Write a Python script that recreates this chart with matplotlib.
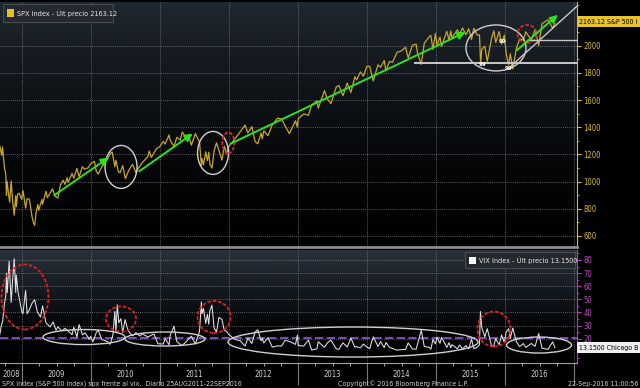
import numpy as np
import pandas as pd
import matplotlib
matplotlib.use('Agg')
import matplotlib.pyplot as plt
import matplotlib.transforms as mtransforms
from matplotlib import font_manager
from matplotlib.patches import Ellipse, Rectangle
from matplotlib.colors import LinearSegmentedColormap
from matplotlib.ticker import MultipleLocator

# S&P 500 (approximate closes)
spx_dates = [
    '2008-09-02', '2008-09-15', '2008-09-19', '2008-09-29', '2008-10-06', '2008-10-10', '2008-10-13',
    '2008-10-22', '2008-10-27', '2008-11-04', '2008-11-12', '2008-11-20', '2008-11-28', '2008-12-01',
    '2008-12-08', '2008-12-16', '2008-12-29', '2009-01-06', '2009-01-20', '2009-01-28', '2009-02-09',
    '2009-02-23', '2009-03-02', '2009-03-09', '2009-03-17', '2009-03-26', '2009-03-30', '2009-04-17',
    '2009-04-20', '2009-05-08', '2009-05-15', '2009-06-12', '2009-06-23', '2009-07-10', '2009-07-23',
    '2009-08-07', '2009-08-17', '2009-08-28', '2009-09-02', '2009-09-23', '2009-10-02', '2009-10-19',
    '2009-10-30', '2009-11-17', '2009-11-27', '2009-12-18', '2009-12-28', '2010-01-19', '2010-01-29',
    '2010-02-08', '2010-02-26', '2010-03-31', '2010-04-15', '2010-04-23', '2010-05-07', '2010-05-13',
    '2010-05-25', '2010-06-04', '2010-06-18', '2010-07-02', '2010-07-20', '2010-08-09', '2010-08-27',
    '2010-09-08', '2010-09-30', '2010-10-29', '2010-11-05', '2010-11-16', '2010-12-13', '2010-12-31',
    '2011-01-18', '2011-01-28', '2011-02-18', '2011-02-23', '2011-03-16', '2011-03-31', '2011-04-18',
    '2011-04-29', '2011-05-23', '2011-05-31', '2011-06-16', '2011-07-07', '2011-07-29', '2011-08-08',
    '2011-08-11', '2011-08-19', '2011-08-31', '2011-09-09', '2011-09-16', '2011-09-22', '2011-10-03',
    '2011-10-14', '2011-10-27', '2011-11-09', '2011-11-25', '2011-12-07', '2011-12-19', '2011-12-30',
    '2012-01-31', '2012-02-29', '2012-03-26', '2012-04-10', '2012-05-01', '2012-05-18', '2012-06-01',
    '2012-06-19', '2012-06-25', '2012-07-03', '2012-07-25', '2012-08-17', '2012-09-14', '2012-10-05',
    '2012-10-23', '2012-11-15', '2012-12-18', '2012-12-28', '2013-01-02', '2013-01-31', '2013-02-25',
    '2013-03-14', '2013-04-11', '2013-04-18', '2013-05-21', '2013-06-05', '2013-06-24', '2013-07-22',
    '2013-08-05', '2013-08-27', '2013-09-18', '2013-10-08', '2013-10-29', '2013-11-07', '2013-11-27',
    '2013-12-13', '2013-12-31', '2014-01-15', '2014-02-03', '2014-02-28', '2014-03-14', '2014-04-02',
    '2014-04-11', '2014-04-30', '2014-05-16', '2014-06-09', '2014-06-30', '2014-07-24', '2014-08-07',
    '2014-08-29', '2014-09-18', '2014-09-25', '2014-10-15', '2014-10-31', '2014-11-28', '2014-12-05',
    '2014-12-16', '2014-12-29', '2015-01-06', '2015-01-22', '2015-01-30', '2015-02-27', '2015-03-11',
    '2015-03-20', '2015-03-26', '2015-04-24', '2015-05-06', '2015-05-21', '2015-06-08', '2015-06-23',
    '2015-07-08', '2015-07-20', '2015-08-07', '2015-08-19', '2015-08-25', '2015-08-31', '2015-09-16',
    '2015-09-29', '2015-10-22', '2015-11-03', '2015-11-13', '2015-12-01', '2015-12-14', '2015-12-29',
    '2016-01-07', '2016-01-20', '2016-01-29', '2016-02-11', '2016-03-01', '2016-03-18', '2016-04-07',
    '2016-04-20', '2016-05-19', '2016-06-08', '2016-06-27', '2016-07-15', '2016-08-15', '2016-09-09',
    '2016-09-15', '2016-09-21',
]
spx_vals = [
    1277, 1193, 1255, 1106, 1057, 899, 1003,
    896, 848, 1005, 852, 752, 896, 816,
    909, 913, 870, 935, 805, 874, 870,
    743, 700, 677, 778, 832, 788, 870,
    833, 929, 882, 946, 895, 879, 976,
    1010, 980, 1029, 995, 1061, 1025, 1097,
    1036, 1110, 1091, 1102, 1127, 1150, 1074,
    1056, 1105, 1169, 1211, 1217, 1110, 1157,
    1074, 1064, 1118, 1022, 1083, 1127, 1065,
    1098, 1141, 1183, 1225, 1178, 1240, 1258,
    1295, 1276, 1343, 1307, 1257, 1326, 1305,
    1364, 1317, 1345, 1268, 1353, 1292, 1119,
    1172, 1123, 1219, 1154, 1216, 1129, 1099,
    1224, 1285, 1229, 1159, 1261, 1205, 1258,
    1312, 1366, 1416, 1358, 1405, 1295, 1278,
    1357, 1314, 1374, 1338, 1418, 1466, 1460,
    1413, 1353, 1446, 1402, 1462, 1498, 1488,
    1563, 1593, 1541, 1669, 1609, 1573, 1695,
    1707, 1631, 1725, 1656, 1771, 1748, 1807,
    1775, 1848, 1848, 1741, 1859, 1841, 1890,
    1815, 1884, 1878, 1951, 1960, 1988, 1910,
    2003, 2011, 1946, 1862, 2018, 2068, 2075,
    1972, 2090, 2003, 2063, 1995, 2105, 2040,
    2108, 2056, 2117, 2080, 2131, 2080, 2124,
    2046, 2128, 2078, 2079, 1868, 1972, 1996,
    1884, 2052, 2109, 2023, 2103, 2012, 2078,
    1943, 1859, 1940, 1829, 1978, 2050, 2041,
    2102, 2040, 2119, 2000, 2162, 2190, 2128,
    2147, 2163,
]

# VIX (approximate closes)
vix_dates = [
    '2008-09-02', '2008-09-15', '2008-09-19', '2008-09-29', '2008-10-06', '2008-10-10', '2008-10-14',
    '2008-10-24', '2008-11-04', '2008-11-12', '2008-11-20', '2008-11-28', '2008-12-01', '2008-12-10',
    '2008-12-31', '2009-01-06', '2009-01-20', '2009-01-28', '2009-02-09', '2009-02-23', '2009-03-09',
    '2009-03-23', '2009-04-09', '2009-04-20', '2009-05-08', '2009-05-29', '2009-06-15', '2009-06-30',
    '2009-07-10', '2009-07-31', '2009-08-17', '2009-08-31', '2009-09-23', '2009-10-02', '2009-10-19',
    '2009-10-30', '2009-11-17', '2009-11-30', '2009-12-24', '2009-12-31', '2010-01-11', '2010-01-29',
    '2010-02-08', '2010-02-26', '2010-03-31', '2010-04-12', '2010-04-27', '2010-05-07', '2010-05-13',
    '2010-05-20', '2010-05-28', '2010-06-08', '2010-06-18', '2010-06-30', '2010-07-16', '2010-07-30',
    '2010-08-09', '2010-08-27', '2010-09-15', '2010-09-30', '2010-10-29', '2010-11-16', '2010-11-30',
    '2010-12-21', '2011-01-18', '2011-01-28', '2011-02-18', '2011-02-23', '2011-03-16', '2011-03-31',
    '2011-04-28', '2011-05-23', '2011-06-16', '2011-07-07', '2011-07-29', '2011-08-08', '2011-08-11',
    '2011-08-19', '2011-08-31', '2011-09-09', '2011-09-16', '2011-09-22', '2011-10-03', '2011-10-14',
    '2011-10-27', '2011-11-09', '2011-11-25', '2011-12-07', '2011-12-19', '2011-12-30', '2012-01-31',
    '2012-02-29', '2012-03-26', '2012-04-10', '2012-05-01', '2012-05-18', '2012-06-01', '2012-06-19',
    '2012-06-25', '2012-07-03', '2012-07-25', '2012-08-17', '2012-09-14', '2012-10-05', '2012-10-23',
    '2012-11-15', '2012-12-18', '2012-12-28', '2013-01-02', '2013-01-31', '2013-02-25', '2013-03-14',
    '2013-04-11', '2013-04-18', '2013-05-21', '2013-06-05', '2013-06-24', '2013-07-22', '2013-08-05',
    '2013-08-27', '2013-09-18', '2013-10-08', '2013-10-29', '2013-11-07', '2013-11-27', '2013-12-13',
    '2013-12-31', '2014-01-15', '2014-02-03', '2014-02-28', '2014-03-14', '2014-04-02', '2014-04-11',
    '2014-04-30', '2014-05-16', '2014-06-09', '2014-06-30', '2014-07-24', '2014-08-07', '2014-08-29',
    '2014-09-18', '2014-09-25', '2014-10-15', '2014-10-31', '2014-11-28', '2014-12-05', '2014-12-16',
    '2014-12-29', '2015-01-06', '2015-01-22', '2015-01-30', '2015-02-27', '2015-03-11', '2015-03-20',
    '2015-03-26', '2015-04-24', '2015-05-06', '2015-05-21', '2015-06-08', '2015-06-23', '2015-07-08',
    '2015-07-20', '2015-08-07', '2015-08-19', '2015-08-24', '2015-08-31', '2015-09-16', '2015-09-29',
    '2015-10-22', '2015-11-03', '2015-11-13', '2015-12-01', '2015-12-14', '2015-12-29', '2016-01-07',
    '2016-01-20', '2016-01-29', '2016-02-11', '2016-03-01', '2016-03-18', '2016-04-07', '2016-04-20',
    '2016-05-19', '2016-06-08', '2016-06-27', '2016-07-15', '2016-08-15', '2016-09-09', '2016-09-15',
    '2016-09-21',
]
vix_vals = [
    21.0, 31.7, 32.0, 46.7, 52.0, 69.9, 55.0,
    79.1, 47.7, 66.0, 80.9, 55.3, 68.5, 55.7,
    40.0, 39.0, 56.7, 39.0, 42.0, 47.0, 49.7,
    40.4, 36.5, 45.0, 32.0, 28.9, 32.7, 26.4,
    29.0, 25.9, 27.9, 26.0, 23.0, 28.7, 21.2,
    30.7, 22.9, 24.5, 19.5, 21.7, 17.6, 24.6,
    26.6, 19.5, 17.6, 15.6, 22.8, 40.9, 24.9,
    45.8, 32.1, 35.2, 24.4, 34.5, 26.2, 23.5,
    22.1, 24.5, 22.0, 23.7, 21.2, 22.6, 23.5,
    16.1, 15.9, 20.0, 15.3, 22.1, 29.4, 17.7,
    14.6, 18.3, 21.8, 15.9, 25.3, 48.0, 39.0,
    43.0, 31.6, 38.5, 30.9, 41.4, 45.5, 28.2,
    25.0, 36.2, 34.5, 26.4, 25.6, 23.4, 19.4,
    18.4, 14.3, 20.4, 16.3, 25.1, 26.7, 18.3,
    20.1, 16.7, 20.7, 13.5, 14.5, 14.3, 18.6,
    17.9, 15.6, 22.7, 14.7, 14.3, 18.9, 11.3,
    12.2, 17.6, 13.4, 16.7, 18.9, 12.3, 11.8,
    16.8, 13.6, 20.3, 13.4, 13.9, 12.9, 15.8,
    13.7, 12.3, 21.4, 14.0, 17.8, 13.1, 17.0,
    13.4, 12.4, 11.2, 11.6, 11.8, 16.7, 12.1,
    12.0, 15.6, 26.3, 14.0, 13.3, 11.9, 19.4,
    15.9, 21.1, 16.4, 21.0, 13.3, 16.9, 13.0,
    15.4, 12.3, 15.1, 12.1, 14.7, 12.1, 19.7,
    12.3, 13.4, 15.3, 40.7, 28.4, 21.4, 27.6,
    14.4, 14.5, 20.1, 15.2, 22.7, 16.9, 25.0,
    27.6, 20.2, 28.1, 17.7, 14.0, 16.2, 13.3,
    16.3, 14.1, 23.9, 12.7, 11.8, 17.5, 15.4,
    13.15,
]

years = list(range(2008, 2017))
spx_ticks = [600, 800, 1000, 1200, 1400, 1600, 1800, 2000]
vix_ticks = [20, 30, 40, 50, 60, 70, 80]
spx_last = 2163.12
vix_last = 13.15
vix_ref = 20.5

# pick a narrow face if one is installed, Bloomberg charts use a condensed font
_entries = font_manager.fontManager.ttflist
_names = {f.name for f in _entries}
if 'Liberation Sans Narrow' in _names:
    FONT = dict(family='Liberation Sans Narrow')
elif any(f.name == 'DejaVu Sans' and f.stretch == 'condensed' for f in _entries):
    FONT = dict(family='DejaVu Sans', stretch='condensed')
else:
    FONT = dict(family='DejaVu Sans')
NARROW = FONT['family'] != 'DejaVu Sans' or 'stretch' in FONT
FS = 5.5 if NARROW else 4.8   # ticks / years
FT = 5.0 if NARROW else 4.4   # legends, tags, footer


def dec_year(ds):
    d = pd.to_datetime(ds)
    return np.asarray(d.year + (d.dayofyear - 1) / 365.25)


spx_x = dec_year(spx_dates)
vix_x = dec_year(vix_dates)

W, H = 640, 388
fig = plt.figure(figsize=(W / 100, H / 100), dpi=100, facecolor='black')


def fx(x):
    return x / W


def fy(y):
    return 1 - y / H


x0, x1 = 2008.681, 2017.043
ax1 = fig.add_axes([0, fy(247), fx(577), 245 / H])
ax2 = fig.add_axes([0, fy(363), fx(577), 113 / H])


def shade(ax, colors):
    cmap = LinearSegmentedColormap.from_list('bg', colors)
    ax.imshow(np.linspace(0, 1, 200).reshape(-1, 1), cmap=cmap, aspect='auto',
              extent=[0, 1, 0, 1], transform=ax.transAxes, origin='lower', zorder=0)


shade(ax1, ['#000000', '#050608', '#10151a', '#1f2730'])
shade(ax2, ['#000000', '#040507', '#151b22', '#29323c'])

for ax in (ax1, ax2):
    ax.set_facecolor('black')
    ax.set_xlim(x0, x1)
    ax.set_xticks(years[1:] + [2017])
    ax.xaxis.set_minor_locator(MultipleLocator(0.25))
    ax.grid(True, which='major', color='#7c7c7c', ls=(0, (1, 1.5)), lw=0.6)
    ax.set_axisbelow(True)
    ax.yaxis.tick_right()
    ax.spines['top'].set_visible(False)
    ax.spines['left'].set_visible(False)

# top panel: S&P 500
ax1.plot(spx_x, spx_vals, color='#c8a62a', lw=0.9, zorder=3)
ax1.set_ylim(519, 2321)
ax1.set_yticks(spx_ticks)
ax1.yaxis.set_minor_locator(MultipleLocator(100))
ax1.tick_params(axis='y', which='both', color='#d8bc2a', labelcolor='#d8bc2a',
                labelsize=FS, direction='out', pad=1.5)
ax1.tick_params(axis='y', which='major', length=3)
ax1.tick_params(axis='y', which='minor', length=1.5)
ax1.tick_params(axis='x', which='both', length=0, labelbottom=False)
ax1.spines['right'].set_color('#d8bc2a')
ax1.spines['bottom'].set_color('#8c8c8c')
ax1.spines['bottom'].set_linewidth(2)
for lab in ax1.get_yticklabels():
    lab.set(**FONT)

# bottom panel: VIX
ax2.plot(vix_x, vix_vals, color='#e2e2e2', lw=0.75, zorder=3)
ax2.axhline(vix_ref, color='#8e5cc8', lw=1.2, ls=(0, (5, 2)), zorder=2)
ax2.set_ylim(1.4, 87.6)
ax2.set_yticks(vix_ticks)
ax2.yaxis.set_minor_locator(MultipleLocator(5))
ax2.tick_params(axis='y', which='both', color='#c636c6', labelcolor='#c64ec6',
                labelsize=FS, direction='out', pad=1.5)
ax2.tick_params(axis='y', which='major', length=3)
ax2.tick_params(axis='y', which='minor', length=1.5)
ax2.tick_params(axis='x', which='major', length=16, color='#7a7a7a', width=0.8, labelbottom=False)
ax2.tick_params(axis='x', which='minor', length=2, color='#bbbbbb', width=0.6)
ax2.spines['right'].set_color('#c636c6')
ax2.spines['bottom'].set_color('#a0a0a0')
for lab in ax2.get_yticklabels():
    lab.set(**FONT)

blend2 = mtransforms.blended_transform_factory(ax2.transData, ax2.transAxes)
for yr in years:
    mid = (max(yr, x0) + min(yr + 1, x1)) / 2
    ax2.text(mid, -0.10, str(yr), transform=blend2, ha='center', va='center',
             fontsize=FS, color='#d4d4d4', clip_on=False, **FONT)

# hand-drawn annotations (data coordinates)
green = '#2fe01e'
for (xa, ya), (xb, yb) in [((2009.435, 888), (2010.29, 1189)),
                           ((2010.666, 1064), (2011.507, 1365)),
                           ((2011.985, 1270), (2015.464, 2108)),
                           ((2016.145, 1954), (2016.797, 2240))]:
    ax1.annotate('', xy=(xb, yb), xytext=(xa, ya),
                 arrowprops=dict(arrowstyle='-|>,head_length=0.45,head_width=0.22',
                                 color=green, lw=1.4), zorder=5)

for cx, cy, w, h in [(2010.435, 1108, 0.464, 316), (2011.768, 1211, 0.449, 316),
                     (2015.869, 1983, 0.87, 338)]:
    ax1.add_patch(Ellipse((cx, cy), w, h, fill=False, ec='#cfcfcf', lw=1.0, zorder=4))
for cx, cy, w, h in [(2011.99, 1285, 0.174, 154), (2016.319, 2086, 0.275, 132)]:
    ax1.add_patch(Ellipse((cx, cy), w, h, fill=False, ec='#e02828', lw=1.3,
                          ls=(0, (2, 1)), zorder=4))

ax1.plot([2014.696, x1], [1873, 1873], color='#c8c8c8', lw=1.4, zorder=4)
ax1.plot([2016.319, x1], [2042, 2042], color='#c8c8c8', lw=1.0, zorder=4)
ax1.plot([2016.072, x1], [1843, 2290], color='#c8c8c8', lw=1.0, zorder=4)
for mx, my in [(2015.68, 1862), (2016.05, 1830), (2015.97, 2030)]:
    ax1.text(mx, my, '99', color='white', fontsize=4, fontweight='bold',
             ha='center', va='center', zorder=5)

for cx, cy, w, h in [(2009.043, 51.8, 0.681, 49.6), (2010.435, 35.0, 0.435, 19.1),
                     (2011.783, 36.5, 0.478, 24.4), (2015.84, 27.3, 0.478, 26.7)]:
    ax2.add_patch(Ellipse((cx, cy), w, h, fill=False, ec='#e02020', lw=1.3,
                          ls=(0, (2, 1)), zorder=4))
for cx, cy, w, h in [(2009.898, 21.2, 1.188, 11.5), (2011.072, 19.7, 1.159, 10.7),
                     (2013.797, 17.4, 3.623, 22.9), (2016.493, 15.1, 0.942, 12.2)]:
    ax2.add_patch(Ellipse((cx, cy), w, h, fill=False, ec='#cfcfcf', lw=1.0, zorder=4))

# last-value tags on the right axis
blend1 = mtransforms.blended_transform_factory(ax1.transAxes, ax1.transData)
ax1.text(1.004, spx_last + 12, f'{spx_last:.2f} S&P 500 I', transform=blend1, ha='left',
         va='center', fontsize=FT, color='black', clip_on=False, zorder=6,
         bbox=dict(boxstyle='square,pad=0.35', fc='#e8c42c', ec='none'), **FONT)
blend3 = mtransforms.blended_transform_factory(ax2.transAxes, ax2.transData)
ax2.text(1.004, vix_last, f'{vix_last:.4f} Chicago B', transform=blend3, ha='left',
         va='center', fontsize=FT, color='black', clip_on=False, zorder=6,
         bbox=dict(boxstyle='square,pad=0.35', fc='#f0f0f0', ec='none'), **FONT)


# legend boxes
def legend_box(x, y, w, h, color, label):
    fig.patches.append(Rectangle((fx(x), fy(y + h)), w / W, h / H, transform=fig.transFigure,
                                 fc='#24292f', ec='#50555b', lw=0.6, zorder=5))
    fig.patches.append(Rectangle((fx(x + 4), fy(y + h / 2 + 3.5)), 7 / W, 7 / H,
                                 transform=fig.transFigure, fc=color, ec='none', zorder=6))
    fig.text(fx(x + 14), fy(y + h / 2), label, color='#e6e6e6', fontsize=FT + 0.2,
             va='center', ha='left', zorder=7, **FONT)


legend_box(3, 4, 110, 18, '#e8c020', 'SPX Index - Últ precio 2163.12')
legend_box(465, 252, 110, 16, '#ffffff', 'VIX Index - Últ precio 13.1500')

# footer
fig.text(fx(2), fy(384), 'SPX Index (S&P 500 Index) spx frente al vix.  Diario 25AUG2011-22SEP2016',
         color='#cfcfcf', fontsize=FT, va='center', ha='left', **FONT)
fig.text(fx(403), fy(384), 'Copyright© 2016 Bloomberg Finance L.P.',
         color='#cfcfcf', fontsize=FT, va='center', ha='center', **FONT)
fig.text(fx(638), fy(384), '22-Sep-2016 11:00:56',
         color='#cfcfcf', fontsize=FT, va='center', ha='right', **FONT)

fig.savefig('out.png', dpi=100, facecolor='black')
